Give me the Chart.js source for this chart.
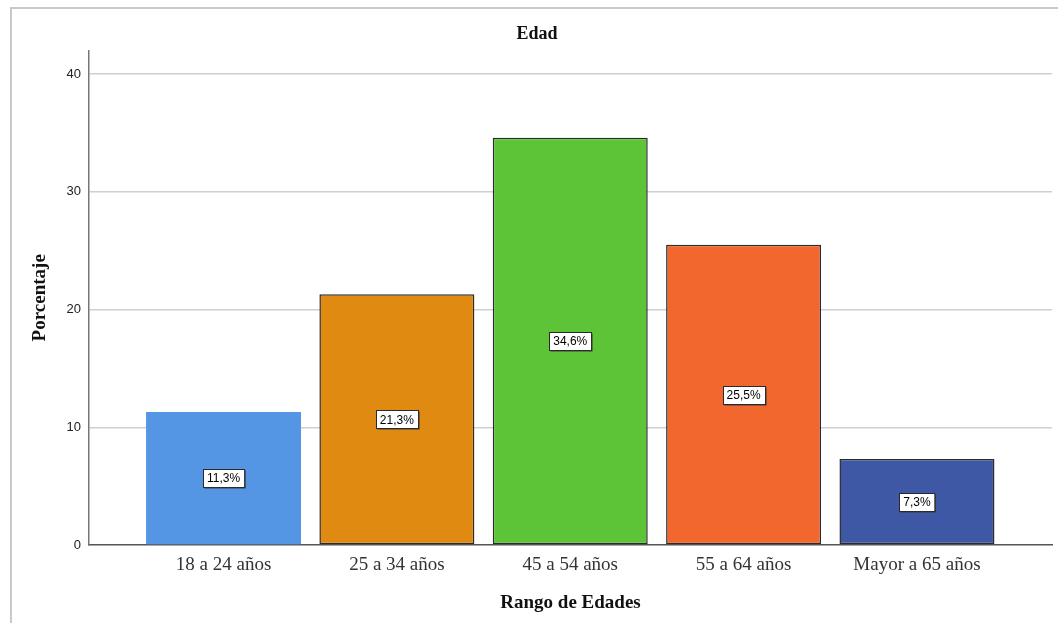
<!DOCTYPE html>
<html>
<head>
<meta charset="utf-8">
<title>Edad</title>
<script src="https://cdn.jsdelivr.net/npm/chart.js@4/dist/chart.umd.min.js"></script>
<style>
    body { margin: 0; background: #ffffff; }
    canvas { display: block; }
</style>
</head>
<body>
<canvas id="myChart" width="1058" height="623"></canvas>
<script>
const categorias = ['18 a 24 años', '25 a 34 años', '45 a 54 años', '55 a 64 años', 'Mayor a 65 años'];
const porcentajes = [11.3, 21.3, 34.6, 25.5, 7.3];
const etiquetas = ['11,3%', '21,3%', '34,6%', '25,5%', '7,3%'];
const yTicks = [0, 10, 20, 30, 40];

const colores = ['#5596e4', '#e08a12', '#5ec437', '#f2672d', '#3e58a6'];
const bordes = [0, 1.5, 1.5, 1.5, 1.5];

const serif = '"Liberation Serif", "Times New Roman", serif';

// light gray frame around the whole figure
const marco = {
    id: 'marco',
    beforeDraw(chart) {
        const ctx = chart.ctx;
        ctx.save();
        ctx.fillStyle = '#ffffff';
        ctx.fillRect(0, 0, chart.width, chart.height);
        ctx.strokeStyle = '#c9c9c9';
        ctx.lineWidth = 2;
        ctx.strokeRect(11, 8, chart.width + 20, chart.height + 20);
        ctx.restore();
    }
};

// boxed percentage labels in the middle of each bar
const etiquetasBarras = {
    id: 'etiquetasBarras',
    afterDatasetsDraw(chart) {
        const ctx = chart.ctx;
        const meta = chart.getDatasetMeta(0);
        ctx.save();
        ctx.font = '12px "Liberation Sans", Arial, sans-serif';
        ctx.textAlign = 'center';
        ctx.textBaseline = 'middle';
        meta.data.forEach((bar, i) => {
            const txt = etiquetas[i];
            const cx = bar.x;
            const cy = (bar.y + bar.base) / 2;
            const w = ctx.measureText(txt).width + 8;
            const h = 18;
            const x0 = Math.round(cx - w / 2) + 0.5;
            const y0 = Math.round(cy - h / 2) + 0.5;
            ctx.fillStyle = '#3a3a3a';
            ctx.fillRect(x0 + 1, y0 + 1, w, h);
            ctx.fillStyle = '#ffffff';
            ctx.fillRect(x0, y0, w, h);
            ctx.strokeStyle = '#2a2a2a';
            ctx.lineWidth = 1;
            ctx.strokeRect(x0, y0, w, h);
            ctx.fillStyle = '#000000';
            ctx.fillText(txt, cx, cy + 1);
        });
        ctx.restore();
    }
};

new Chart('myChart', {
    type: 'bar',
    data: {
        datasets: [{
            label: 'Porcentaje',
            data: porcentajes.map((v, i) => ({ x: i, y: v })),
            backgroundColor: colores,
            borderColor: '#2b2b2b',
            borderWidth: bordes,
            borderSkipped: false,
            barPercentage: 0.894,
            categoryPercentage: 1
        }]
    },
    plugins: [marco, etiquetasBarras],
    options: {
        responsive: false,
        animation: false,
        layout: { padding: { left: 22, right: 6, top: 7, bottom: 0 } },
        plugins: {
            legend: { display: false },
            tooltip: { enabled: false },
            title: {
                display: true,
                text: 'Edad',
                color: '#111111',
                font: { family: serif, size: 18, weight: 'bold' },
                padding: { top: 17, bottom: 5 }
            }
        },
        scales: {
            x: {
                type: 'linear',
                offset: false,
                min: -0.776,
                max: 4.779,
                afterBuildTicks: (scale) => {
                    scale.ticks = categorias.map((c, i) => ({ value: i }));
                },
                afterFit: (scale) => { scale.height = 78; },
                grid: { display: false, drawTicks: false },
                border: { display: true, color: '#555555', width: 1.5 },
                ticks: {
                    padding: 9,
                    color: '#333333',
                    autoSkip: false,
                    maxRotation: 0,
                    font: { family: serif, size: 19 },
                    callback: (v) => categorias[v]
                },
                title: {
                    display: true,
                    text: 'Rango de Edades',
                    color: '#111111',
                    font: { family: serif, size: 19, weight: 'bold' },
                    padding: { top: 0, bottom: 9 }
                }
            },
            y: {
                min: 0,
                max: 42,
                afterBuildTicks: (scale) => {
                    scale.ticks = yTicks.map(v => ({ value: v }));
                },
                afterFit: (scale) => { scale.width = 67; },
                grid: {
                    drawTicks: false,
                    color: (c) => c.tick.value === 0 ? 'rgba(0,0,0,0)' : '#cfcfcf',
                    lineWidth: 1.5
                },
                border: { display: true, color: '#777777', width: 1.5 },
                ticks: {
                    padding: 8,
                    color: '#222222',
                    font: { family: '"Liberation Sans", Arial, sans-serif', size: 13 }
                },
                title: {
                    display: true,
                    text: 'Porcentaje',
                    color: '#111111',
                    font: { family: serif, size: 19, weight: 'bold' },
                    padding: { top: 7, bottom: 0 }
                }
            }
        }
    }
});
</script>
</body>
</html>
